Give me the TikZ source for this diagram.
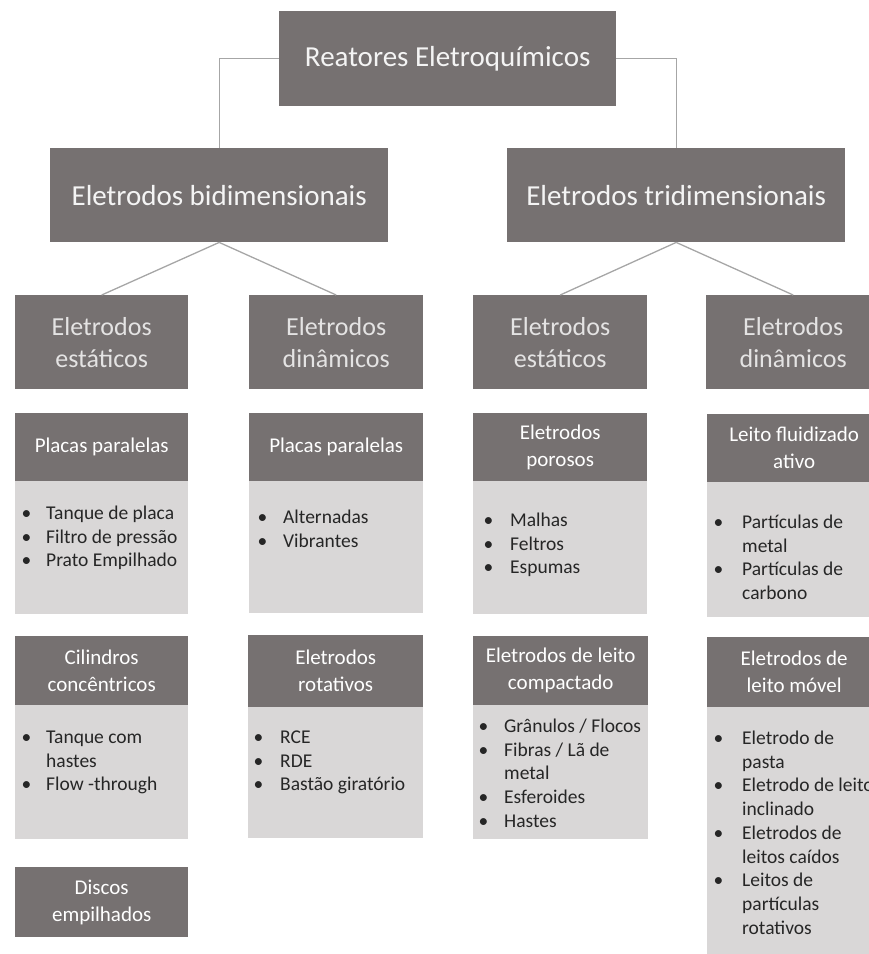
\documentclass[tikz,border=0pt]{standalone}
\usepackage{fontspec}
\setmainfont{Carlito}
\definecolor{dk}{HTML}{767171}
\definecolor{lt}{HTML}{D9D7D7}
\definecolor{ln}{HTML}{A6A6A6}
\definecolor{tx}{HTML}{262626}
\definecolor{wt}{HTML}{F4F4F4}
\definecolor{lg}{HTML}{E4E3E3}
\newenvironment{blist}[1]{\begin{tabular}[t]{@{}p{#1}@{}l@{}}}{\end{tabular}}
\tikzset{
  dbox/.style={fill=dk, draw=none, inner sep=0pt, anchor=north west, align=center},
  lbox/.style={fill=lt, draw=none, inner sep=0pt, anchor=north west},
  topfont/.style={text=wt, font=\fontsize{29}{35}\selectfont},
  lvthree/.style={text=lg, font=\fontsize{26}{32}\selectfont},
  hdr/.style={text=white, font=\fontsize{21}{27}\selectfont},
  items/.style={text=tx, inner sep=0pt, anchor=base west, font=\fontsize{19.5}{23.7}\selectfont},
  conn/.style={draw=ln, line width=1.3pt},
}
\begin{document}
\begin{tikzpicture}[x=1pt,y=-1pt]
\useasboundingbox (0,0) rectangle (869,954);
% level 1
\node[dbox, topfont, minimum width=337pt, minimum height=95pt] (top) at (279,11) {Reatores Eletroquímicos};
% level 2
\node[dbox, topfont, minimum width=338pt, minimum height=94pt] (bi) at (50,148) {Eletrodos bidimensionais};
\node[dbox, topfont, minimum width=338pt, minimum height=94pt] (tri) at (507,148) {Eletrodos tridimensionais};
% level 3
\node[dbox, lvthree, minimum width=173pt, minimum height=94pt] (e1) at (15,295) {Eletrodos\\estáticos};
\node[dbox, lvthree, minimum width=174pt, minimum height=94pt] (d1) at (249,295) {Eletrodos\\dinâmicos};
\node[dbox, lvthree, minimum width=174pt, minimum height=94pt] (e2) at (473,295) {Eletrodos\\estáticos};
\node[dbox, lvthree, minimum width=174pt, minimum height=94pt] (d2) at (706,295) {Eletrodos\\dinâmicos};
% connectors
\draw[conn] (top.west) -| (bi.north);
\draw[conn] (top.east) -| (tri.north);
\draw[conn] (bi.south) -- (e1.north);
\draw[conn] (bi.south) -- (d1.north);
\draw[conn] (tri.south) -- (e2.north);
\draw[conn] (tri.south) -- (d2.north);
% level 4 bodies
\node[lbox, minimum width=173pt, minimum height=133pt] (b11) at (15,481) {};
\node[lbox, minimum width=174pt, minimum height=132pt] (b21) at (249,481) {};
\node[lbox, minimum width=174pt, minimum height=133pt] (b31) at (473,481) {};
\node[lbox, minimum width=174pt, minimum height=135pt] (b41) at (707,482) {};
% level 4 headers
\node[dbox, hdr, minimum width=173pt, minimum height=68pt] (h11) at (15,413) {Placas paralelas};
\node[dbox, hdr, minimum width=174pt, minimum height=68pt] (h21) at (249,413) {Placas paralelas};
\node[dbox, hdr, minimum width=174pt, minimum height=68pt] (h31) at (473,413) {Eletrodos\\porosos};
\node[dbox, hdr, minimum width=174pt, minimum height=68pt] (h41) at (707,414) {Leito fluidizado\\ativo};
% level 4 items
\node[items] (t11) at (21.5,519.5) {\begin{blist}{24.5pt}\textbullet & Tanque de placa\\ \textbullet & Filtro de pressão\\ \textbullet & Prato Empilhado\end{blist}};
\node[items] (t21) at (257.5,523.5) {\begin{blist}{25.5pt}\textbullet & Alternadas\\ \textbullet & Vibrantes\end{blist}};
\node[items] (t31) at (483.5,526.5) {\begin{blist}{26.5pt}\textbullet & Malhas\\ \textbullet & Feltros\\ \textbullet & Espumas\end{blist}};
\node[items] (t41) at (713.5,528.5) {\begin{blist}{28.5pt}\textbullet & Partículas de\\ & metal\\ \textbullet & Partículas de\\ & carbono\end{blist}};
% level 5 bodies
\node[lbox, minimum width=173pt, minimum height=134pt] (b12) at (15,705) {};
\node[lbox, minimum width=175pt, minimum height=131pt] (b22) at (248,707) {};
\node[lbox, minimum width=175pt, minimum height=134pt] (b32) at (473,705) {};
\node[lbox, minimum width=174pt, minimum height=250pt] (b42) at (707,707) {};
% level 5 headers
\node[dbox, hdr, minimum width=173pt, minimum height=69pt] (h12) at (15,636) {Cilindros\\concêntricos};
\node[dbox, hdr, minimum width=175pt, minimum height=72pt] (h22) at (248,635) {Eletrodos\\rotativos};
\node[dbox, hdr, minimum width=175pt, minimum height=69pt] (h32) at (473,636) {Eletrodos de leito\\compactado};
\node[dbox, hdr, minimum width=174pt, minimum height=70pt] (h42) at (707,637) {Eletrodos de\\leito móvel};
% level 5 items
\node[items] (t12) at (21.5,743.5) {\begin{blist}{24.5pt}\textbullet & Tanque com\\ & hastes\\ \textbullet & Flow -through\end{blist}};
\node[items] (t22) at (253.5,743.5) {\begin{blist}{26.5pt}\textbullet & RCE\\ \textbullet & RDE\\ \textbullet & Bastão giratório\end{blist}};
\node[items] (t32) at (478.5,732.5) {\begin{blist}{25.5pt}\textbullet & Grânulos / Flocos\\ \textbullet & Fibras / Lã de\\ & metal\\ \textbullet & Esferoides\\ \textbullet & Hastes\end{blist}};
\node[items] (t42) at (713.5,744.5) {\begin{blist}{28.5pt}\textbullet & Eletrodo de\\ & pasta\\ \textbullet & Eletrodo de leito\\ & inclinado\\ \textbullet & Eletrodos de\\ & leitos caídos\\ \textbullet & Leitos de\\ & partículas\\ & rotativos\end{blist}};
% level 6
\node[dbox, hdr, minimum width=173pt, minimum height=70pt] (h13) at (15,867) {Discos\\empilhados};
\end{tikzpicture}
\end{document}
